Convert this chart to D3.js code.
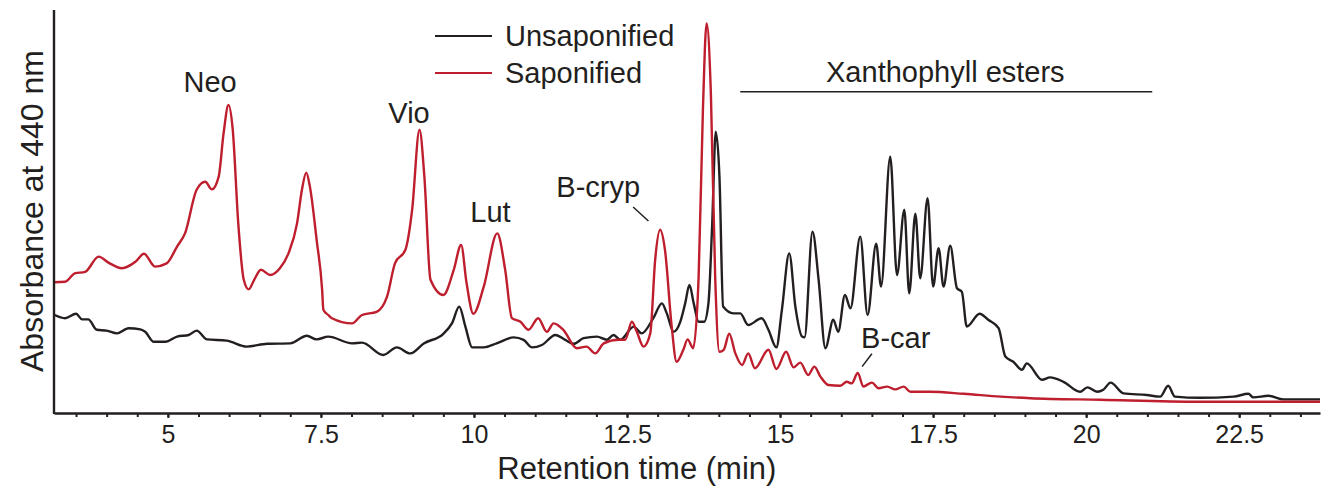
<!DOCTYPE html>
<html>
<head>
<meta charset="utf-8">
<script src="https://cdn.jsdelivr.net/npm/d3@7"></script>
<style>
  body { margin: 0; background: #fff; }
  svg { display: block; font-family: "Liberation Sans", Arial, sans-serif; }
  text { fill: #231f20; }
</style>
</head>
<body>
<svg id="chart" width="1324" height="487"></svg>
<script>
// retention time (min), absorbance (arbitrary units)
const unsaponified = [
  [3.15,24.5],[3.32,23.7],[3.5,24.8],[3.6,23.4],[3.7,23.4],[3.84,20.8],[4.0,20.6],[4.17,19.9],[4.36,21.2],[4.55,20.9],
  [4.63,20.3],[4.77,17.8],[4.96,17.8],[5.15,19.1],[5.34,19.5],[5.47,20.6],[5.64,18.4],[5.96,18.1],[6.29,16.6],[6.62,17.3],
  [7.0,17.4],[7.27,19.3],[7.43,18.4],[7.62,19.1],[8.01,17.4],[8.17,17.6],[8.52,14.5],[8.74,16.4],[8.96,14.9],[9.18,17.4],
  [9.5,19.8],[9.64,22.4],[9.76,26.6],[9.86,21.6],[9.97,16.4],[10.16,16.4],[10.37,17.4],[10.65,18.9],[10.81,18.3],[10.95,16.4],
  [11.11,17.0],[11.33,19.5],[11.49,18.3],[11.63,17.3],[11.79,18.7],[12.01,19.1],[12.17,18.3],[12.28,19.5],[12.39,18.3],[12.61,21.6],
  [12.74,19.9],[12.93,23.7],[13.07,27.4],[13.15,24.9],[13.26,20.3],[13.37,22.8],[13.45,27.4],[13.52,32.0],[13.59,27.4],[13.67,22.8],
  [13.76,22.8],[13.83,27.4],[13.89,46.6],[13.95,70.3],[14.01,59.1],[14.07,26.6],[14.24,24.9],[14.35,24.9],[14.48,22.0],[14.7,23.7],
  [14.81,20.8],[14.94,16.4],[15.03,25.8],[15.15,39.9],[15.25,26.6],[15.36,19.1],[15.4,18.9],[15.53,45.3],[15.63,33.3],[15.74,16.2],
  [15.87,23.3],[15.95,20.3],[16.06,29.5],[16.15,26.2],[16.31,44.1],[16.43,24.5],[16.57,42.3],[16.65,31.6],[16.8,64.1],[16.91,34.5],
  [17.03,50.8],[17.11,29.9],[17.21,49.8],[17.29,33.7],[17.41,53.7],[17.5,31.6],[17.59,41.2],[17.67,31.6],[17.78,41.8],[17.89,31.2],
  [17.97,30.3],[18.05,21.6],[18.26,24.8],[18.4,23.3],[18.57,21.2],[18.68,14.1],[18.81,12.8],[18.95,10.8],[19.03,12.4],[19.28,8.3],
  [19.41,8.9],[19.63,7.8],[19.9,5.3],[20.02,6.4],[20.18,5.3],[20.28,5.8],[20.4,7.6],[20.61,4.9],[20.99,4.5],[21.21,4.1],
  [21.34,6.8],[21.45,4.1],[21.86,3.8],[22.41,4.1],[22.65,4.8],[22.73,3.9],[22.98,4.3],[23.22,3.4],[23.82,3.4]
];

const saponified = [
  [3.14,32.7],[3.32,32.8],[3.48,34.9],[3.65,35.3],[3.87,39.1],[4.03,37.6],[4.25,36.2],[4.47,37.8],[4.61,39.8],[4.79,36.6],
  [4.98,37.4],[5.15,41.6],[5.28,44.9],[5.47,55.8],[5.61,57.8],[5.72,55.9],[5.83,59.1],[5.91,69.9],[5.99,77.0],[6.06,70.8],
  [6.15,47.4],[6.24,33.3],[6.32,30.9],[6.41,33.3],[6.52,35.8],[6.67,34.5],[6.83,36.2],[6.97,39.9],[7.11,47.4],[7.19,55.8],
  [7.26,60.1],[7.32,56.6],[7.43,43.3],[7.52,30.8],[7.54,25.8],[7.62,24.5],[7.68,23.7],[8.01,22.4],[8.17,24.5],[8.41,25.3],
  [8.58,29.1],[8.71,37.4],[8.88,40.8],[8.99,50.8],[9.11,70.8],[9.19,59.1],[9.29,33.3],[9.5,29.5],[9.67,35.8],[9.79,42.0],
  [9.88,32.4],[9.99,24.8],[10.16,31.6],[10.38,44.9],[10.51,35.8],[10.62,23.7],[10.76,22.8],[10.89,20.8],[11.05,23.7],[11.19,20.3],
  [11.3,22.4],[11.46,20.8],[11.68,16.2],[11.84,16.6],[11.98,14.9],[12.12,17.4],[12.36,18.3],[12.47,18.3],[12.58,22.8],[12.66,20.3],
  [12.77,16.6],[12.88,19.9],[12.96,38.3],[13.04,45.8],[13.12,40.8],[13.23,21.6],[13.31,12.8],[13.42,15.8],[13.49,18.4],[13.58,16.2],
  [13.67,34.1],[13.74,75.8],[13.8,97.4],[13.87,79.9],[13.94,34.1],[14.01,15.3],[14.08,15.8],[14.17,19.8],[14.27,14.9],[14.38,12.0],
  [14.48,14.9],[14.59,11.2],[14.81,15.8],[14.94,11.0],[15.1,15.3],[15.22,11.4],[15.33,12.6],[15.46,9.5],[15.56,11.6],[15.66,9.1],
  [15.79,7.0],[15.98,6.8],[16.09,7.8],[16.17,7.4],[16.27,10.0],[16.36,6.6],[16.5,7.6],[16.61,6.2],[16.75,6.6],[16.88,5.9],
  [17.02,6.6],[17.13,5.3],[17.45,5.3],[18.0,4.8],[18.6,4.1],[19.09,3.7],[20.23,3.3],[21.86,2.8],[23.82,2.8]
];

const seriesNames = ["Unsaponified", "Saponified"];
const seriesColors = ["#231f20", "#be1e2d"];
const majorTicks = [5, 7.5, 10, 12.5, 15, 17.5, 20, 22.5];
const minorTicks = d3.range(3.5, 23.6, 0.5);

// peak labels: text, x (min), y (abs)
const peakLabels = [
  { text: "Neo", t: 5.69, a: 80.3 },
  { text: "Vio", t: 8.94, a: 72.5 },
  { text: "Lut", t: 10.27, a: 47.8 },
  { text: "B-cryp", t: 12.03, a: 54.1 },
  { text: "Xanthophyll esters", t: 17.70, a: 82.8 },
  { text: "B-car", t: 16.89, a: 16.3 }
];
const leaderLines = [
  [12.60, 51.5, 12.85, 48.0],
  [16.50, 14.8, 16.34, 11.6],
  [14.35, 80.3, 21.08, 80.3]
];

const svg = d3.select('#chart');
const margin = { top: 10, right: 4, bottom: 74, left: 54 };
const width = 1324, height = 487;
const ink = "#231f20";

const x = d3.scaleLinear()
  .domain([3.14, 23.82])
  .range([margin.left, width - margin.right]);

const y = d3.scaleLinear()
  .domain([0, 100])
  .range([height - margin.bottom, 13]);

const line = d3.line()
  .x(d => x(d[0]))
  .y(d => y(d[1]))
  .curve(d3.curveMonotoneX);

// traces (black under red)
[unsaponified, saponified].forEach((s, i) => {
  svg.append('path')
    .datum(s)
    .attr('fill', 'none')
    .attr('stroke', seriesColors[i])
    .attr('stroke-width', 2.4)
    .attr('stroke-linejoin', 'round')
    .attr('d', line);
});

// x axis, minor ticks then labelled ticks
const axisY = height - margin.bottom;
svg.append('g')
  .attr('transform', `translate(0, ${axisY})`)
  .call(d3.axisBottom(x).tickValues(minorTicks).tickSize(4).tickFormat(''))
  .call(g => g.select('.domain').remove())
  .selectAll('line').attr('stroke', ink).attr('stroke-width', 2);

const xAxis = svg.append('g')
  .attr('transform', `translate(0, ${axisY})`)
  .call(d3.axisBottom(x).tickValues(majorTicks).tickSize(5).tickSizeOuter(0).tickPadding(7)
    .tickFormat(d => String(d)));
xAxis.select('.domain').attr('stroke', ink).attr('stroke-width', 2.4);
xAxis.selectAll('line').attr('stroke', ink).attr('stroke-width', 2);
xAxis.selectAll('text')
  .attr('font-size', '25px')
  .attr('font-family', '"Liberation Sans", Arial, sans-serif')
  .attr('fill', ink);

// y axis is just a line
svg.append('line')
  .attr('x1', margin.left).attr('x2', margin.left)
  .attr('y1', margin.top).attr('y2', axisY + 1)
  .attr('stroke', ink).attr('stroke-width', 2.4);

// axis titles
svg.append('text')
  .attr('x', x(12.66))
  .attr('y', 479)
  .attr('text-anchor', 'middle')
  .attr('font-size', '31px')
  .text('Retention time (min)');

svg.append('text')
  .attr('transform', `translate(43, ${y(50.5)}) rotate(-90)`)
  .attr('text-anchor', 'middle')
  .attr('font-size', '32px')
  .text('Absorbance at 440 nm');

// legend
const legend = svg.append('g')
  .selectAll('g')
  .data(seriesNames)
  .enter()
  .append('g')
  .attr('transform', (d, i) => `translate(435, ${36 + i * 37})`);

legend.append('line')
  .attr('x1', 0).attr('x2', 57)
  .attr('stroke', (d, i) => seriesColors[i])
  .attr('stroke-width', 2.2);

legend.append('text')
  .attr('x', 70)
  .attr('y', 10)
  .attr('font-size', '29px')
  .text(d => d);

// peak labels
svg.append('g')
  .selectAll('text')
  .data(peakLabels)
  .enter()
  .append('text')
  .attr('x', d => x(d.t))
  .attr('y', d => y(d.a))
  .attr('text-anchor', 'middle')
  .attr('font-size', '29px')
  .text(d => d.text);

svg.append('g')
  .selectAll('line')
  .data(leaderLines)
  .enter()
  .append('line')
  .attr('x1', d => x(d[0])).attr('y1', d => y(d[1]))
  .attr('x2', d => x(d[2])).attr('y2', d => y(d[3]))
  .attr('stroke', ink)
  .attr('stroke-width', 1.5);
</script>
</body>
</html>
